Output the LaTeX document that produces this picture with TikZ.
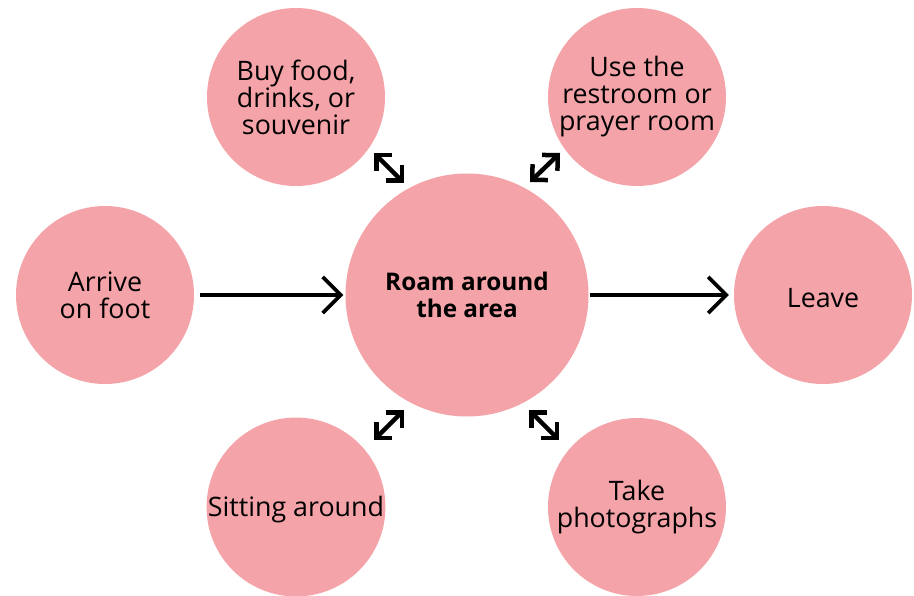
\documentclass[tikz,border=0pt]{standalone}
\usepackage{fontspec}
\setmainfont{Open Sans}
\usetikzlibrary{arrows.meta}
\definecolor{pinkc}{HTML}{F4A3A8}
\begin{document}
\begin{tikzpicture}[x=1pt,y=-1pt,
  bubble/.style={circle,fill=pinkc,draw=none,minimum size=178pt,inner sep=0pt,align=center,
    font=\fontsize{26.8}{27}\selectfont,execute at begin node={\rule{0pt}{25pt}}},
  bigbubble/.style={bubble,minimum size=243pt,font=\fontsize{24.3}{27}\selectfont\bfseries},
  flow/.style={line width=3.7pt,-{Straight Barb[length=18pt,width=36pt,sharp]}},
  swap/.style={line width=4.5pt,{Straight Barb[length=11pt,width=22pt,sharp]}-{Straight Barb[length=11pt,width=22pt,sharp]}}]
\useasboundingbox (0,0) rectangle (914,596);
\node[bigbubble] (roam) at (467,295) {Roam around\\the area};
\node[bubble] (arrive) at (105,295) {Arrive\\on foot};
\node[bubble] (leave) at (823,295) {Leave};
\node[bubble] (buy) at (296,97) {Buy food,\\drinks, or\\souvenir};
\node[bubble] (rest) at (637,97) {Use the\\restroom or\\prayer room};
\node[bubble] (sit) at (296,507) {Sitting around};
\node[bubble] (photo) at (637,507) {Take\\photographs};
\draw[flow,shorten <=6pt,shorten >=2pt] (arrive) -- (roam);
\draw[flow,shorten <=1pt,shorten >=5pt] (roam) -- (leave);
\coordinate (tl1) at (374,153); \coordinate (tl2) at (404,183);
\coordinate (tr1) at (530,182); \coordinate (tr2) at (560,153);
\coordinate (bl1) at (374,440); \coordinate (bl2) at (404,410);
\coordinate (br1) at (529,410); \coordinate (br2) at (559,440);
\draw[swap] (tl1) -- (tl2);
\draw[swap] (tr1) -- (tr2);
\draw[swap] (bl1) -- (bl2);
\draw[swap] (br1) -- (br2);
\end{tikzpicture}
\end{document}
